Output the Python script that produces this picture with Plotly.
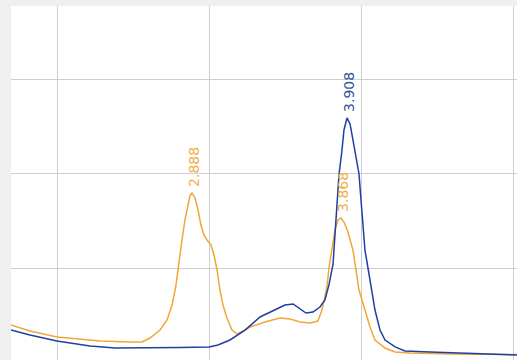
import plotly.graph_objects as go

# Blue trace (time in min, signal)
blue_time = [1.697, 1.822, 2.000, 2.118, 2.217, 2.382, 2.612, 2.809, 3.000, 3.059, 3.138, 3.237,
             3.336, 3.401, 3.500, 3.553, 3.599, 3.638, 3.684, 3.730, 3.763, 3.789, 3.816,
             3.829, 3.842, 3.855, 3.875, 3.888, 3.908, 3.928, 3.947, 3.961, 3.987, 4.000, 4.013,
             4.026, 4.046, 4.072, 4.092, 4.125, 4.158, 4.224, 4.289, 4.454, 4.651, 4.849, 5.026]
blue_signal = [34.0, 28.7, 22.3, 19.1, 17.0, 14.9, 14.9, 15.4, 16.0, 18.1, 23.4, 34.0,
               47.9, 53.2, 60.6, 61.7, 56.4, 52.1, 53.2, 58.5, 66.0, 82.0, 104.0,
               138.0, 172.3, 198.9, 225.5, 246.8, 259.6, 253.2, 236.2, 223.4, 200.0, 172.3, 140.4,
               119.1, 100.0, 76.6, 55.3, 34.0, 23.4, 16.0, 11.7, 10.6, 9.6, 8.5, 7.4]

# Orange trace
orange_time = [1.697, 1.822, 2.000, 2.151, 2.283, 2.480, 2.559, 2.612, 2.678, 2.724, 2.757, 2.783,
               2.803, 2.822, 2.842, 2.862, 2.875, 2.888, 2.908, 2.928, 2.947, 2.967, 2.987, 3.013,
               3.033, 3.053, 3.072, 3.092, 3.118, 3.151, 3.184, 3.224, 3.270, 3.368, 3.467, 3.533,
               3.599, 3.664, 3.717, 3.743, 3.763, 3.776, 3.789, 3.809, 3.829, 3.849, 3.868, 3.888,
               3.914, 3.947, 3.967, 3.987, 4.026, 4.059, 4.092, 4.158, 4.224, 4.322, 4.586, 5.026]
orange_signal = [39.4, 33.0, 26.6, 24.5, 22.3, 21.3, 21.3, 25.5, 34.0, 44.7, 60.6, 81.9,
                 108.5, 129.8, 151.1, 169.1, 177.0, 179.8, 174.5, 161.7, 145.7, 135.1, 129.8, 124.5,
                 113.8, 97.9, 76.6, 60.6, 46.8, 34.0, 29.8, 33.0, 37.2, 42.6, 46.8, 45.7,
                 42.6, 41.5, 43.6, 55.3, 71.3, 79.8, 100.0, 119.1, 140.4, 151.1, 153.2, 148.9,
                 138.3, 119.1, 100.0, 76.6, 55.3, 37.2, 23.4, 14.9, 10.6, 9.6, 8.5, 8.0]

# Peak labels
peak_labels = ["2.888", "3.868", "3.908"]
peak_times = [2.888, 3.868, 3.908]
peak_heights = [179.8, 153.2, 259.6]
peak_series = ["orange", "orange", "blue"]

BLUE = "#1f3fa3"
ORANGE = "#f2a636"
label_colors = {"blue": "#3352a0", "orange": "#f2ad4a"}

fig = go.Figure()
fig.add_trace(go.Scatter(x=orange_time, y=orange_signal, mode="lines",
                         line=dict(color=ORANGE, width=1.5), hoverinfo="skip"))
fig.add_trace(go.Scatter(x=blue_time, y=blue_signal, mode="lines",
                         line=dict(color=BLUE, width=1.5), hoverinfo="skip"))

for lab, t, h, s in zip(peak_labels, peak_times, peak_heights, peak_series):
    fig.add_annotation(x=t, y=h, text=lab, showarrow=False, textangle=-90,
                       xanchor="center", yanchor="bottom", yshift=4, xshift=2,
                       font=dict(family="DejaVu Sans", size=14, color=label_colors[s]))

fig.update_layout(
    width=517, height=360,
    margin=dict(l=11, r=0, t=6, b=0),
    paper_bgcolor="#efefef",
    plot_bgcolor="#ffffff",
    showlegend=False,
    xaxis=dict(range=[1.6974, 5.0263], dtick=1, tick0=0, showgrid=True,
               gridcolor="#cfcfcf", gridwidth=1, showticklabels=False,
               zeroline=False, showline=False, ticks=""),
    yaxis=dict(range=[2.13, 378.7], dtick=100, tick0=0, showgrid=True,
               gridcolor="#cfcfcf", gridwidth=1, showticklabels=False,
               zeroline=False, showline=False, ticks=""),
)

fig.write_html("out.html", config={"displayModeBar": False},
               post_script="document.body.style.margin='0';document.body.style.overflow='hidden';")
